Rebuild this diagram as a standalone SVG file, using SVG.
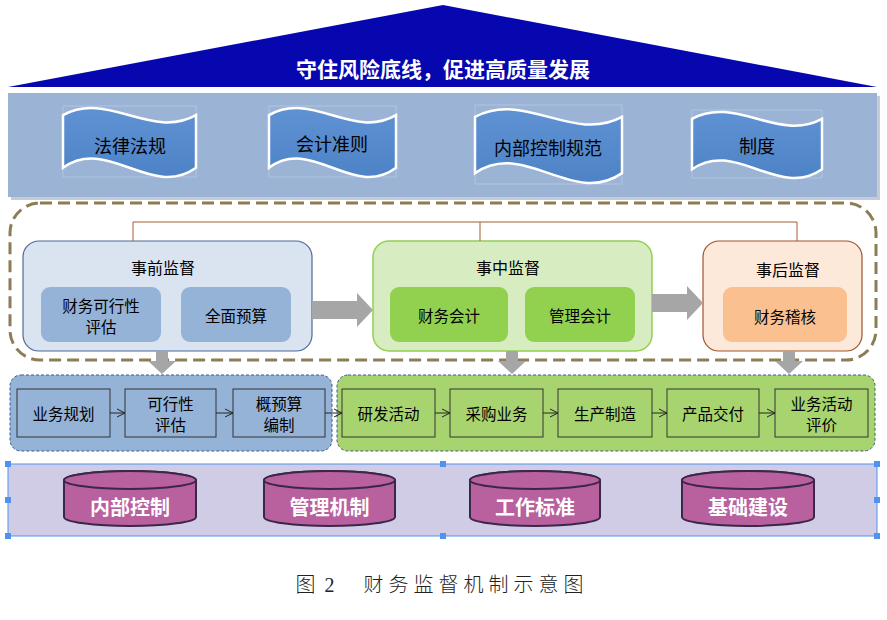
<svg xmlns="http://www.w3.org/2000/svg" width="887" height="620" viewBox="0 0 887 620">
<style>
text{font-family:"Noto Sans CJK SC","Noto Sans",sans-serif;text-anchor:middle;dominant-baseline:central}
.wave{fill:url(#wg);stroke:#ffffff;stroke-width:2.5}
.wbox{fill:none;stroke:#b9c9e0;stroke-width:0.8}
.wt{font-size:18px;fill:#000}
.tt{font-size:16px;fill:#000}
.it{font-size:15.5px;fill:#000}
.pb{stroke:#333;stroke-width:1}
.pt{font-size:15.5px;fill:#000}
.cyl{fill:#b9609f;stroke:#3b2748;stroke-width:2}
.ct{font-size:20px;font-weight:bold;fill:#fff}
.pa{stroke:#222;stroke-width:1;fill:none;marker-end:url(#oa)}
.ga{fill:#a6a6a6}
.hd{fill:#4f93ef}
</style>
<defs>
<linearGradient id="wg" x1="0" y1="0" x2="0" y2="1">
<stop offset="0" stop-color="#5f92d3"/>
<stop offset="1" stop-color="#4d83c6"/>
</linearGradient>
<marker id="oa" markerWidth="10" markerHeight="10" refX="9" refY="5" orient="auto" markerUnits="userSpaceOnUse">
<path d="M1,1 L9,5 L1,9" fill="none" stroke="#222" stroke-width="1"/>
</marker>
</defs>

<g id="roof">
<polygon points="443,5 877,87 8,87" fill="#0707b0"/>
<text x="443" y="68" style="font-size:21px;font-weight:bold;fill:#fff">守住风险底线，促进高质量发展</text>
</g>

<g id="rules-band">
<rect x="11" y="96" width="869" height="104" fill="#8a9ab0" opacity="0.5"/>
<rect x="8" y="93" width="869" height="104" fill="#9bb4d6"/>
</g>
<g id="w1">
<rect class="wbox" x="63" y="106" width="133" height="71"/>
<path class="wave" d="M63,115.2 C107.3,90.4 151.7,140.1 196,115.2 L196,167.8 C151.7,199.7 107.3,135.8 63,167.8 Z"/>
<text class="wt" x="130" y="145">法律法规</text>
</g>
<g id="w2">
<rect class="wbox" x="269" y="106" width="127" height="71"/>
<path class="wave" d="M269,115.2 C311.3,90.4 353.7,140.1 396,115.2 L396,167.8 C353.7,199.7 311.3,135.8 269,167.8 Z"/>
<text class="wt" x="332" y="143">会计准则</text>
</g>
<g id="w3">
<rect class="wbox" x="475" y="105" width="147" height="79"/>
<path class="wave" d="M475,116.9 C524,90.3 573,143.5 622,116.9 L622,173.1 C573,207.3 524,138.9 475,173.1 Z"/>
<text class="wt" x="548" y="147">内部控制规范</text>
</g>
<g id="w4">
<rect class="wbox" x="692" y="110" width="130" height="68"/>
<path class="wave" d="M692,118.8 C735.3,95 778.7,142.6 822,118.8 L822,169.2 C778.7,199.8 735.3,138.6 692,169.2 Z"/>
<text class="wt" x="757" y="145">制度</text>
</g>

<g id="supervision-frame">
<rect x="10" y="203" width="866" height="157" rx="30" fill="none" stroke="#8c7d55" stroke-width="3" stroke-dasharray="12,6"/>
</g>

<g id="pre">
<rect x="23" y="241" width="289" height="110" rx="16" fill="#dae3f0" stroke="#4b6a98" stroke-width="1.2"/>
<text class="tt" x="163" y="267">事前监督</text>
<rect x="41" y="287" width="120" height="55" rx="9" fill="#95b3d7"/>
<text class="it" x="101" y="305">财务可行性</text>
<text class="it" x="101" y="326">评估</text>
<rect x="181" y="287" width="110" height="55" rx="9" fill="#95b3d7"/>
<text class="it" x="236" y="315">全面预算</text>
</g>
<g id="mid">
<rect x="373" y="241" width="279" height="110" rx="16" fill="#d7edc1" stroke="#92d050" stroke-width="1.5"/>
<text class="tt" x="508" y="267">事中监督</text>
<rect x="390" y="287" width="118" height="55" rx="9" fill="#92d050"/>
<text class="it" x="449" y="315">财务会计</text>
<rect x="525" y="287" width="110" height="55" rx="9" fill="#92d050"/>
<text class="it" x="580" y="315">管理会计</text>
</g>
<g id="post">
<rect x="703" y="241" width="159" height="110" rx="16" fill="#fde9d9" stroke="#a0522d" stroke-width="1.2"/>
<text class="tt" x="788" y="269">事后监督</text>
<rect x="723" y="287" width="124" height="55" rx="9" fill="#fac090"/>
<text class="it" x="785" y="316">财务稽核</text>
</g>

<g id="blue-group">
<rect x="10" y="375" width="322" height="76" rx="11" fill="#95b3d7" stroke="#3d5a88" stroke-width="1" stroke-dasharray="3,2"/>
</g>
<g id="green-group">
<rect x="337" y="375" width="538" height="76" rx="11" fill="#a8d46f" stroke="#3d5a88" stroke-width="1" stroke-dasharray="3,2"/>
</g>
<g id="p1"><rect class="pb" x="17" y="389" width="93" height="48" fill="#95b3d7"/><text class="pt" x="63.5" y="413">业务规划</text></g>
<g id="p2"><rect class="pb" x="125" y="389" width="91" height="48" fill="#95b3d7"/><text class="pt" x="170.5" y="403">可行性</text><text class="pt" x="170.5" y="424">评估</text></g>
<g id="p3"><rect class="pb" x="233" y="389" width="92" height="48" fill="#95b3d7"/><text class="pt" x="279" y="403">概预算</text><text class="pt" x="279" y="424">编制</text></g>
<g id="p4"><rect class="pb" x="342" y="389" width="93" height="48" fill="#a8d46f"/><text class="pt" x="388.5" y="413">研发活动</text></g>
<g id="p5"><rect class="pb" x="450" y="389" width="93" height="48" fill="#a8d46f"/><text class="pt" x="496.5" y="413">采购业务</text></g>
<g id="p6"><rect class="pb" x="558" y="389" width="94" height="48" fill="#a8d46f"/><text class="pt" x="605" y="413">生产制造</text></g>
<g id="p7"><rect class="pb" x="667" y="389" width="92" height="48" fill="#a8d46f"/><text class="pt" x="713" y="413">产品交付</text></g>
<g id="p8"><rect class="pb" x="775" y="389" width="93" height="48" fill="#a8d46f"/><text class="pt" x="821.5" y="403">业务活动</text><text class="pt" x="821.5" y="424">评价</text></g>

<g id="connectors">
<path d="M133,241 V222 H797 V241 M480,222 V241" fill="none" stroke="#a65a30" stroke-width="1"/>
<polygon class="ga" points="312,301 357,301 357,293 373,310 357,327 357,319 312,319"/>
<polygon class="ga" points="652,294 687,294 687,286 703,303 687,320 687,312 652,312"/>
<polygon class="ga" points="156,351 168,351 168,361 176,361 162,374 148,361 156,361"/>
<polygon class="ga" points="506,351 518,351 518,361 526,361 512,374 498,361 506,361"/>
<polygon class="ga" points="783,351 795,351 795,361 803,361 789,374 775,361 783,361"/>
<line class="pa" x1="110" y1="413" x2="125" y2="413"/>
<line class="pa" x1="216" y1="413" x2="233" y2="413"/>
<line class="pa" x1="325" y1="413" x2="342" y2="413"/>
<line class="pa" x1="435" y1="413" x2="450" y2="413"/>
<line class="pa" x1="543" y1="413" x2="558" y2="413"/>
<line class="pa" x1="652" y1="413" x2="667" y2="413"/>
<line class="pa" x1="759" y1="413" x2="775" y2="413"/>
</g>

<g id="base-band">
<rect x="8" y="464" width="869" height="72" fill="#d0cce6" stroke="#4f93ef" stroke-width="1"/>
<rect class="hd" x="5" y="461" width="6" height="6"/>
<rect class="hd" x="440" y="461" width="6" height="6"/>
<rect class="hd" x="874" y="461" width="6" height="6"/>
<rect class="hd" x="5" y="497" width="6" height="6"/>
<rect class="hd" x="874" y="497" width="6" height="6"/>
<rect class="hd" x="5" y="533" width="6" height="6"/>
<rect class="hd" x="440" y="533" width="6" height="6"/>
<rect class="hd" x="874" y="533" width="6" height="6"/>
</g>
<g id="c1">
<path class="cyl" d="M64,480 V517 A66,9 0 0 0 196,517 V480 A66,9 0 0 0 64,480 Z"/>
<ellipse class="cyl" cx="130" cy="480" rx="66" ry="9"/>
<text class="ct" x="130" y="506">内部控制</text>
</g>
<g id="c2">
<path class="cyl" d="M264,480 V517 A65.5,9 0 0 0 395,517 V480 A65.5,9 0 0 0 264,480 Z"/>
<ellipse class="cyl" cx="329.5" cy="480" rx="65.5" ry="9"/>
<text class="ct" x="329.5" y="506">管理机制</text>
</g>
<g id="c3">
<path class="cyl" d="M470,480 V517 A65,9 0 0 0 600,517 V480 A65,9 0 0 0 470,480 Z"/>
<ellipse class="cyl" cx="535" cy="480" rx="65" ry="9"/>
<text class="ct" x="535" y="506">工作标准</text>
</g>
<g id="c4">
<path class="cyl" d="M682,480 V517 A66,9 0 0 0 814,517 V480 A66,9 0 0 0 682,480 Z"/>
<ellipse class="cyl" cx="748" cy="480" rx="66" ry="9"/>
<text class="ct" x="748" y="506">基础建设</text>
</g>

<g id="caption">
<text x="316" y="585" style="font-family:'Liberation Serif','Noto Sans CJK SC',serif;font-size:20px;fill:#222;letter-spacing:2px;font-weight:300">图 2</text>
<text x="476" y="585" style="font-family:'Liberation Serif','Noto Sans CJK SC',serif;font-size:20px;fill:#222;letter-spacing:5px;font-weight:300">财务监督机制示意图</text>
</g>
</svg>
